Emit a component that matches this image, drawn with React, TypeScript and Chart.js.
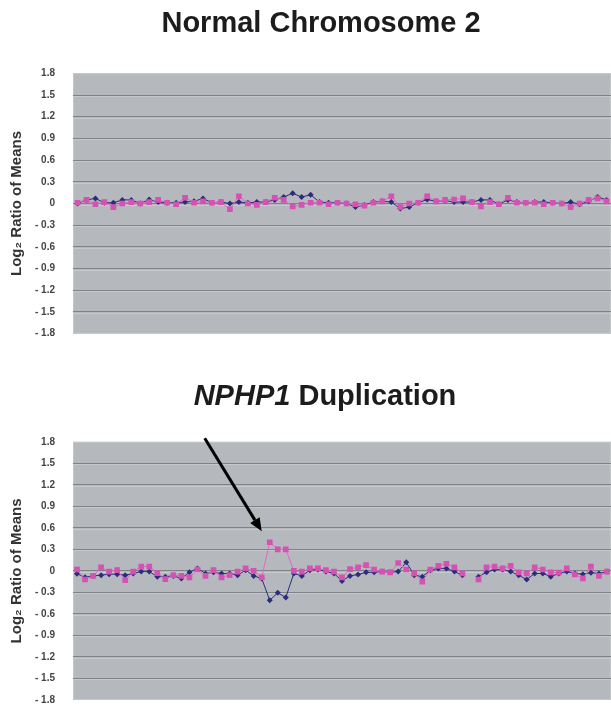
import React, { useEffect, useRef } from 'react';
import { Chart, registerables } from 'chart.js';

Chart.register(...registerables);

// ---------- text ----------
const topTitle = 'Normal Chromosome 2';
const bottomTitleItalic = 'NPHP1';
const bottomTitleRest = ' Duplication';
const yAxisTitle = 'Log\u2082 Ratio of Means';

// ---------- y ticks ----------
const yTickValues = [1.8, 1.5, 1.2, 0.9, 0.6, 0.3, 0, -0.3, -0.6, -0.9, -1.2, -1.5, -1.8];
const yTickLabels = ['1.8', '1.5', '1.2', '0.9', '0.6', '0.3', '0', '- 0.3', '- 0.6', '- 0.9', '- 1.2', '- 1.5', '- 1.8'];

// ---------- Normal chromosome 2 (60 probes) ----------
const normalPink = [
  0.01, 0.05, -0.01, 0.02, -0.05, 0.0, 0.02, 0.0, 0.02, 0.05,
  0.01, -0.01, 0.08, 0.01, 0.03, 0.01, 0.02, -0.08, 0.1, 0.0,
  -0.02, 0.02, 0.08, 0.05, -0.04, -0.02, 0.01, 0.01, -0.01, 0.01,
  0.0, -0.01, -0.03, 0.01, 0.03, 0.1, -0.05, 0.0, 0.01, 0.1,
  0.03, 0.05, 0.055, 0.07, 0.02, -0.04, 0.02, -0.01, 0.08, 0.01,
  0.01, 0.01, -0.01, 0.01, 0.0, -0.05, 0.0, 0.05, 0.07, 0.03,
];
const normalBlue = [
  0.0, 0.05, 0.07, 0.01, 0.01, 0.05, 0.05, 0.0, 0.055, 0.02,
  0.01, 0.01, 0.02, 0.03, 0.07, 0.01, 0.02, 0.0, 0.02, 0.01,
  0.02, 0.02, 0.05, 0.09, 0.14, 0.09, 0.12, 0.02, 0.01, 0.01,
  0.0, -0.05, -0.02, 0.02, 0.03, 0.02, -0.07, -0.05, 0.01, 0.055,
  0.03, 0.04, 0.02, 0.02, 0.02, 0.05, 0.05, -0.01, 0.05, 0.02,
  0.01, 0.02, 0.02, 0.01, 0.0, 0.02, -0.01, 0.03, 0.09, 0.05,
];

// ---------- NPHP1 duplication (67 probes, one missing) ----------
const dupPink = [
  0.02, -0.12, -0.07, 0.05, -0.01, 0.01, -0.13, -0.01, 0.06, 0.06,
  -0.03, -0.115, -0.06, -0.07, -0.09, 0.02, -0.07, 0.01, -0.09, -0.06,
  -0.01, 0.035, 0.0, -0.09, 0.4, 0.3, 0.3, 0.0, -0.01, 0.035,
  0.035, 0.01, -0.01, -0.09, 0.025, 0.05, 0.08, 0.02, -0.01, -0.02,
  0.11, 0.02, -0.035, -0.15, 0.02, 0.07, 0.1, 0.05, -0.035, null,
  -0.12, 0.05, 0.06, 0.035, 0.07, -0.02, -0.035, 0.05, 0.02, -0.02,
  -0.025, 0.035, -0.05, -0.105, 0.06, -0.07, -0.01,
];
const dupBlue = [
  -0.04, -0.09, -0.07, -0.06, -0.045, -0.045, -0.06, -0.035, -0.01, -0.01,
  -0.08, -0.08, -0.07, -0.105, -0.02, 0.035, -0.035, -0.02, -0.035, -0.035,
  -0.06, 0.01, -0.07, -0.105, -0.41, -0.305, -0.37, -0.035, -0.07, 0.01,
  0.02, -0.01, -0.035, -0.14, -0.07, -0.05, -0.02, -0.02, -0.01, -0.02,
  -0.01, 0.12, -0.06, -0.08, 0.01, 0.035, 0.035, -0.01, -0.06, null,
  -0.08, -0.02, 0.02, 0.02, -0.01, -0.06, -0.12, -0.035, -0.035, -0.08,
  -0.035, -0.01, -0.035, -0.045, -0.025, -0.035, -0.01,
];
const arrowTargetIndex = 24;

// ---------- styles ----------
const PINK = '#d651b4';
const PINK_LINE = '#dc6cc0';
const BLUE = '#2b2c7c';
const PLOT_BG = '#b5b8bc';
const GRID = '#7f8387';
const GRID_HI = '#c6c9cc';
const FONT = "'Liberation Sans', Arial, Helvetica, sans-serif";

function tickLabel(v: number): string {
  const i = yTickValues.findIndex((t) => Math.abs(t - v) < 1e-9);
  return i >= 0 ? yTickLabels[i] : '';
}

const bgPlugin = {
  id: 'plotBg',
  beforeDraw(chart: any) {
    const { ctx, chartArea: a } = chart;
    ctx.save();
    ctx.fillStyle = PLOT_BG;
    ctx.fillRect(a.left, a.top, a.right - a.left, a.bottom - a.top);
    ctx.strokeStyle = '#c4c7ca';
    ctx.lineWidth = 1;
    ctx.strokeRect(a.left + 0.5, a.top + 0.5, a.right - a.left - 1, a.bottom - a.top - 1);
    ctx.restore();
  },
  beforeDatasetsDraw(chart: any) {
    const { ctx, chartArea: a } = chart;
    const y = chart.scales.y;
    ctx.save();
    ctx.strokeStyle = GRID_HI;
    ctx.lineWidth = 1;
    yTickValues.forEach((v) => {
      if (Math.abs(v) > 1.79) return;
      const py = Math.round(y.getPixelForValue(v)) + 1.5;
      ctx.beginPath();
      ctx.moveTo(a.left, py);
      ctx.lineTo(a.right, py);
      ctx.stroke();
    });
    ctx.restore();
  },
};

const arrowPlugin = {
  id: 'nphpArrow',
  afterDatasetsDraw(chart: any) {
    const meta = chart.getDatasetMeta(0);
    const pt = meta.data[arrowTargetIndex];
    if (!pt) return;
    const ctx = chart.ctx;
    const tipX = pt.x - 8;
    const tipY = pt.y - 11;
    const tailX = tipX - 57;
    const tailY = tipY - 93;
    const ang = Math.atan2(tipY - tailY, tipX - tailX);
    const headLen = 13;
    const headW = 5.5;
    const baseX = tipX - headLen * Math.cos(ang);
    const baseY = tipY - headLen * Math.sin(ang);
    ctx.save();
    ctx.strokeStyle = '#000';
    ctx.fillStyle = '#000';
    ctx.lineWidth = 3;
    ctx.beginPath();
    ctx.moveTo(tailX, tailY);
    ctx.lineTo(baseX, baseY);
    ctx.stroke();
    ctx.beginPath();
    ctx.moveTo(tipX, tipY);
    ctx.lineTo(baseX + headW * Math.sin(ang), baseY - headW * Math.cos(ang));
    ctx.lineTo(baseX - headW * Math.sin(ang), baseY + headW * Math.cos(ang));
    ctx.closePath();
    ctx.fill();
    ctx.restore();
  },
};

function makeConfig(pink: (number | null)[], blue: (number | null)[], padTop: number, padBottom: number, extra: any[]) {
  const labels = pink.map((_, i) => String(i + 1));
  return {
    type: 'line' as const,
    data: {
      labels,
      datasets: [
        {
          data: pink,
          borderColor: PINK_LINE,
          backgroundColor: PINK,
          pointBackgroundColor: PINK,
          borderWidth: 1,
          pointStyle: 'rect',
          pointRadius: 4,
          pointBorderWidth: 0,
          spanGaps: false,
          tension: 0,
        },
        {
          data: blue,
          borderColor: BLUE,
          backgroundColor: BLUE,
          pointBackgroundColor: BLUE,
          borderWidth: 1,
          pointStyle: 'rectRot',
          pointRadius: 3,
          pointBorderWidth: 0,
          spanGaps: false,
          tension: 0,
        },
      ],
    },
    options: {
      animation: false,
      responsive: false,
      maintainAspectRatio: false,
      events: [],
      layout: { autoPadding: false, padding: { top: padTop, bottom: padBottom, left: 0, right: 0 } },
      plugins: {
        legend: { display: false },
        tooltip: { enabled: false },
        title: { display: false },
      },
      scales: {
        x: { type: 'category', offset: true, display: false },
        y: {
          min: -1.8,
          max: 1.8,
          afterBuildTicks: (s: any) => {
            s.ticks = yTickValues.map((v) => ({ value: v }));
          },
          afterFit: (s: any) => {
            s.width = 73;
          },
          ticks: {
            padding: 18,
            color: '#444',
            font: { family: FONT, size: 10, weight: 'bold' },
            callback: (v: any) => tickLabel(Number(v)),
          },
          grid: {
            drawTicks: false,
            lineWidth: 1,
            color: (c: any) => (c.tick && Math.abs(c.tick.value) > 1.79 ? 'rgba(0,0,0,0)' : GRID),
          },
          border: { display: false },
          title: {
            display: true,
            text: yAxisTitle,
            color: '#333',
            font: { family: FONT, size: 15, weight: 'bold' },
            padding: { top: 8, bottom: 0 },
          },
        },
      },
    },
    plugins: [bgPlugin, ...extra],
  };
}

export default function App() {
  const topRef = useRef<HTMLCanvasElement | null>(null);
  const botRef = useRef<HTMLCanvasElement | null>(null);

  useEffect(() => {
    document.body.style.margin = '0';
    const c1 = new Chart(topRef.current as HTMLCanvasElement, makeConfig(normalPink, normalBlue, 73.3, 26.3, []) as any);
    const c2 = new Chart(botRef.current as HTMLCanvasElement, makeConfig(dupPink, dupBlue, 81.8, 25, [arrowPlugin]) as any);
    return () => {
      c1.destroy();
      c2.destroy();
    };
  }, []);

  const titleStyle: React.CSSProperties = {
    position: 'absolute',
    transform: 'translateX(-50%)',
    whiteSpace: 'nowrap',
    fontFamily: FONT,
    fontWeight: 'bold',
    fontSize: 29,
    lineHeight: '29px',
    color: '#1c1c1c',
    zIndex: 2,
  };

  return (
    <div style={{ position: 'absolute', left: 0, top: 0, width: 611, height: 709, overflow: 'hidden', background: '#fff' }}>
      <canvas ref={topRef} width={611} height={360} style={{ position: 'absolute', left: 0, top: 0, width: 611, height: 360 }} />
      <canvas ref={botRef} width={611} height={365} style={{ position: 'absolute', left: 0, top: 360, width: 611, height: 365 }} />
      <div style={{ ...titleStyle, left: 321, top: 7.5 }}>{topTitle}</div>
      <div style={{ ...titleStyle, left: 325, top: 380.5 }}>
        <i>{bottomTitleItalic}</i>
        {bottomTitleRest}
      </div>
    </div>
  );
}
